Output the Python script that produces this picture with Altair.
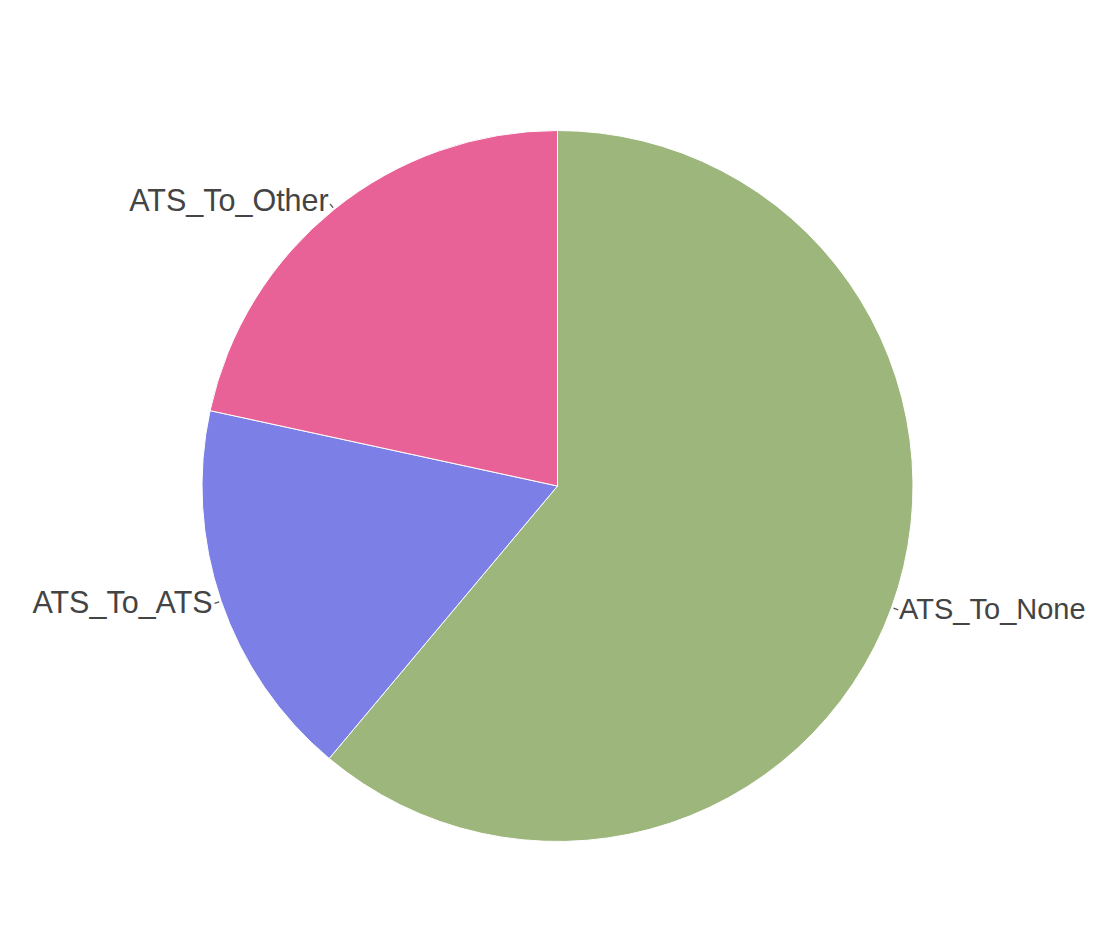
import altair as alt
import pandas as pd

categories = ["ATS_To_None", "ATS_To_ATS", "ATS_To_Other"]
values = [61.1, 17.3, 21.6]
colors = ["#9DB67B", "#7B7FE6", "#E86298"]
aligns = ["left", "right", "right"]

df = pd.DataFrame({"category": categories, "value": values, "order": [0, 1, 2], "align": aligns})

CX, CY, R = 549.5, 478, 355.5
TOTAL = sum(values)

theta_scale = alt.Scale(domain=[0, TOTAL], range=[0, 6.283185307179586])

pie = alt.Chart(df).mark_arc(radius=R, stroke="white", strokeWidth=1).encode(
    theta=alt.Theta("value:Q", stack=True),
    order=alt.Order("order:Q"),
    x=alt.value(CX),
    y=alt.value(CY),
    color=alt.Color("category:N", scale=alt.Scale(domain=categories, range=colors), legend=None),
)

stacked = alt.Chart(df).transform_window(
    cum="sum(value)", sort=[alt.SortField("order")]
).transform_calculate(
    mid="datum.cum - datum.value / 2",
    t0="datum.cum - datum.value / 2 - 0.03",
    t1="datum.cum - datum.value / 2 + 0.03",
)

ticks = stacked.mark_arc(radius=R + 2, radius2=R + 7, color="#555555").encode(
    theta=alt.Theta("t0:Q", scale=theta_scale, stack=None),
    theta2="t1:Q",
    x=alt.value(CX),
    y=alt.value(CY),
)

def labels(al, size, off):
    return stacked.transform_filter(alt.datum.align == al).mark_text(
        radius=R + off, align=al, baseline="middle", fontSize=size,
        font="Liberation Sans", color="#444444"
    ).encode(
        theta=alt.Theta("mid:Q", scale=theta_scale, stack=None),
        x=alt.value(CX), y=alt.value(CY), text="category:N"
    )

chart = alt.layer(pie, ticks, labels("left", 29, 8), labels("right", 30.5, 9)).properties(
    width=1078, height=915, padding=0,
    autosize=alt.AutoSizeParams(type="none"),
).configure_view(stroke=None)

chart.save("out.html", embed_options={"renderer": "svg", "actions": False})
